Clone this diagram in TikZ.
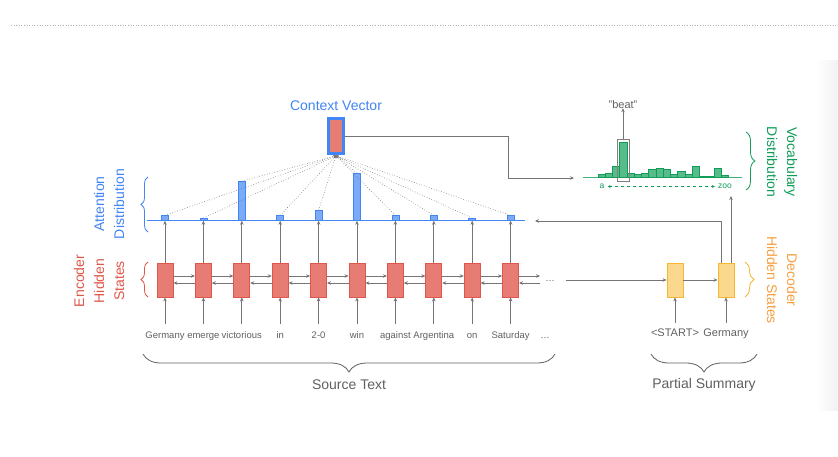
\documentclass[tikz,border=0pt]{standalone}
\usepackage{fontspec}
\setmainfont{Liberation Sans}
\usetikzlibrary{arrows.meta,positioning,decorations.pathreplacing}
\definecolor{encred}{HTML}{E67C73}
\definecolor{encline}{HTML}{E0564A}
\definecolor{attblue}{HTML}{4285F4}
\definecolor{attbar}{HTML}{7BAAF7}
\definecolor{vocgreen}{HTML}{0F9D58}
\definecolor{vocbar}{HTML}{57BB8A}
\definecolor{decfill}{HTML}{FAD98E}
\definecolor{decline}{HTML}{F7B731}
\definecolor{decorange}{HTML}{F5A142}
\definecolor{arrgray}{HTML}{757575}
\definecolor{txtgray}{HTML}{616161}
\tikzset{
  enc/.style    = {draw=encline, fill=encred, line width=0.8pt, inner sep=0,
                   minimum width=16pt, minimum height=34pt},
  dec/.style    = {enc, draw=decline, fill=decfill},
  cvec/.style   = {enc, draw=attblue, line width=2.4pt, minimum width=15pt,
                   minimum height=35pt},
  abar/.style   = {draw=attblue, fill=attbar, line width=0.6pt, inner sep=0,
                   minimum width=7pt, anchor=south},
  vbar/.style   = {draw=vocgreen, fill=vocbar, line width=0.6pt, inner sep=0,
                   minimum width=7.25pt, anchor=south west},
  word/.style   = {font=\fontsize{9.5}{11}\selectfont, text=txtgray, inner sep=0,
                   text height=7pt, text depth=2pt, anchor=base},
  dword/.style  = {word, font=\fontsize{11}{13}\selectfont, text height=8pt},
  title/.style  = {font=\fontsize{14}{20}\selectfont, align=center, inner sep=0},
  arr/.style    = {draw=arrgray, line width=0.7pt, -{Stealth[length=4pt,width=3.5pt]}},
  brace/.style  = {decorate, line width=0.8pt,
                   decoration={brace, amplitude=#1}},
  brace/.default = 7pt
}

\begin{document}
\begin{tikzpicture}[x=1pt, y=-1pt]
\useasboundingbox (0,0) rectangle (838,456);
\fill[white] (0,0) rectangle (838,456);
\shade[left color=white, right color=black!5] (815,60) rectangle (838,410);
\draw[dotted, gray!60, line width=0.6pt] (11,25) -- (838,25);

% encoder hidden states, words and attention bars
\coordinate (attL) at (147,220.7);
\coordinate (attR) at (525,220.7);
\draw[attblue, line width=0.8pt] (attL) -- (attR);
\foreach \i/\w/\h in {1/Germany/4.7, 2/emerge/2, 3/victorious/39, 4/in/4.7, 5/2-0/10,
                      6/win/47, 7/against/4.7, 8/Argentina/4.7, 9/on/2, 10/Saturday/4.7} {
  \pgfmathsetmacro\xx{165+38.4*(\i-1)}
  \node[enc] (e\i) at (\xx,280) {};
  \node[word] (w\i) at (\xx,338.5) {\w};
  \node[abar, minimum height=\h pt] (a\i) at (\xx,220.7) {};
  \draw[arr] ([yshift=7pt]w\i.north) -- (e\i.south);
  \draw[arr] (e\i.north) -- (a\i.south);
}
\node[word] (edots) at (550,281) {\ldots};
\node[word] (wdots) at (545,338.5) {\ldots};
\foreach \i [evaluate=\i as \j using int(\i+1)] in {1,...,9} {
  \draw[arr] ([yshift=4pt]e\i.east) -- ([yshift=4pt]e\j.west);
  \draw[arr] ([yshift=-3pt]e\j.west) -- ([yshift=-3pt]e\i.east);
}
\coordinate (encout) at (540,276);
\coordinate (encin) at (540,283);
\draw[arr] ([yshift=4pt]e10.east) -- (encout);
\draw[arr] (encin) -- ([yshift=-3pt]e10.east);

% context vector
\node[cvec] (cv) at (336,136) {};
\node[title, text=attblue] (cvlabel) at (336,106) {Context Vector};
\foreach \i in {1,...,10}
  \draw[dotted, arrgray, line width=0.6pt, -{Stealth[length=2.5pt,width=2.5pt]}]
    (a\i.north) -- ([yshift=-1pt]cv.south);

% vocabulary distribution
\coordinate (turn) at (508,178);
\coordinate (vocin) at (574,178);
\draw[arr] (cv.east) -| (turn) -- (vocin);
\coordinate (vocL) at (583,177.7);
\coordinate (vocR) at (742,177.7);
\draw[vocgreen!80, line width=0.8pt] (vocL) -- (vocR);
\foreach \h [count=\k] in {3.3,4.3,11.3,34.7,4,3.3,4.3,7.7,9.3,8,3.3,5.7,3.3,11.3,1.3,1.3,8.7,1.7}
  \node[vbar, minimum height=\h pt] (v\k) at (597.7+7.25*\k-7.25,177.7) {};
\node[draw=gray, line width=0.7pt, minimum width=12pt, minimum height=42pt, inner sep=0]
  (beatbox) at (623,160) {};
\node[dword] (beat) at (623,108) {"beat"};
\draw[arr] (beatbox.north) -- ([yshift=2pt]beat.south);
\node[word, text=vocgreen, font=\fontsize{8.5}{10}\selectfont] (va) at (602,188) {a};
\node[word, text=vocgreen, font=\fontsize{8.5}{10}\selectfont] (vz) at (725,188) {zoo};
\draw[vocgreen, dashed, line width=0.6pt,
      {Stealth[length=3pt,width=3pt]}-{Stealth[length=3pt,width=3pt]}]
  ([xshift=3pt,yshift=-1pt]va.east) -- ([xshift=-3pt,yshift=-1pt]vz.west);

% decoder hidden states
\node[dec] (d1) at (675,280) {};
\node[dec] (d2) at (726,280) {};
\node[dword] (p1) at (675,336) {\textless START\textgreater};
\node[dword] (p2) at (726,336) {Germany};
\coordinate (decin) at (566,280);
\draw[arr] (decin) -- (d1.west);
\draw[arr] (d1.east) -- (d2.west);
\draw[arr] ([yshift=5pt]p1.north) -- (d1.south);
\draw[arr] ([yshift=5pt]p2.north) -- (d2.south);
\coordinate (attin) at (535,221);
\coordinate (vocout) at (731,196);
\draw[arr] ([xshift=-5pt]d2.north) |- (attin);
\draw[arr] ([xshift=5pt]d2.north) -- (vocout);

% braces and labels
\draw[brace, attblue] (148,232) -- (148,177);
\node[title, text=attblue, rotate=90] (attlabel) at (109,204) {Attention\\Distribution};
\draw[brace, encline] (148,297) -- (148,262);
\node[title, text=encline, rotate=90] (enclabel) at (99,281) {Encoder\\Hidden\\States};
\draw[brace=9pt, vocgreen] (746,132) -- (746,190);
\node[title, text=vocgreen, rotate=-90] (voclabel) at (782,162) {Vocabulary\\Distribution};
\draw[brace=9pt, decline] (745,262) -- (745,297);
\node[title, text=decorange, rotate=-90] (declabel) at (782,280) {Decoder\\Hidden States};
\draw[brace=18pt, txtgray] (555,354) -- (143,354);
\node[title, text=txtgray] (srclabel) at (349,385) {Source Text};
\draw[brace=18pt, txtgray] (757,354) -- (651,354);
\node[title, text=txtgray] (sumlabel) at (704,385) {Partial Summary};
\end{tikzpicture}
\end{document}
